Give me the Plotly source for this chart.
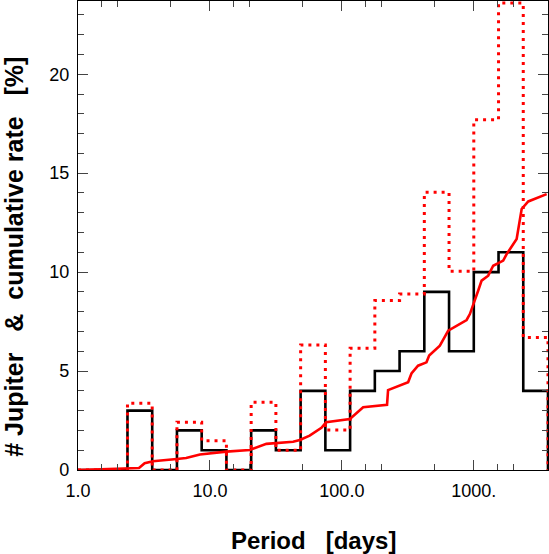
import numpy as np
import plotly.graph_objects as go

# ---------------- data ----------------
BIN_DEX = 0.1875          # log10 bin width
N_BINS = 19
jupiter_counts = [0, 0, 3, 0, 2, 1, 0, 2, 1, 4, 1, 4, 5, 6, 9, 6, 10, 11, 4]
jupiter_rate = [0, 0, 3.37, 0, 2.41, 1.48, 0, 3.42, 1.0, 6.32, 2.02, 6.15,
                8.56, 8.89, 14.03, 10.04, 17.7, 23.6, 6.7]

cum_period = [1.0, 2.3, 2.9, 3.2, 3.7, 5.6, 6.6, 8.4, 13.3, 20.0, 22.5, 26.8,
              42.7, 48.0, 57.0, 70.0, 76.0, 115, 145, 194, 220, 224, 318, 337,
              378, 438, 459, 553, 604, 640, 882, 934, 1079, 1146, 1286, 1403,
              1671, 1774, 2113, 2306, 2588, 3567]
cum_rate = [0.0, 0.07, 0.1, 0.34, 0.44, 0.56, 0.61, 0.78, 0.93, 1.01, 1.15, 1.32,
            1.43, 1.52, 1.74, 2.13, 2.41, 2.58, 3.17, 3.25, 3.30, 4.04, 4.43, 4.88,
            5.27, 5.44, 5.78, 6.28, 6.70, 7.04, 7.58, 7.88, 9.06, 9.57, 9.82, 10.32,
            10.58, 10.91, 11.67, 13.19, 13.57, 13.94]

x_tickvals = [1, 10, 100, 1000]
x_ticktext = ["1.0", "10.0", "100.0", "1000."]
x_minor = [m * 10 ** d for d in range(4) for m in (1.5, 2, 5)]
y_tickvals = [0, 5, 10, 15, 20]

# ---------------- figure ----------------
edges = 10 ** (np.arange(N_BINS + 1) * BIN_DEX)

fig = go.Figure()
fig.add_trace(go.Scatter(
    x=edges, y=list(jupiter_counts) + [0], mode="lines", line_shape="hv",
    line=dict(color="black", width=2.6), hoverinfo="skip"))
fig.add_trace(go.Scatter(
    x=edges, y=list(jupiter_rate) + [0], mode="lines", line_shape="hv",
    line=dict(color="#ff0000", width=3, dash="3px,5px"), hoverinfo="skip"))
fig.add_trace(go.Scatter(
    x=cum_period, y=cum_rate, mode="lines",
    line=dict(color="#ff0000", width=2.6), hoverinfo="skip"))

tickfont = dict(family="Liberation Sans, Arial, sans-serif", size=18, color="black")
sp = "\u00a0"

fig.update_layout(
    width=549, height=554,
    margin=dict(l=78, r=1, t=1, b=84, autoexpand=False),
    paper_bgcolor="white", plot_bgcolor="white",
    showlegend=False,
    xaxis=dict(
        type="log", range=[0, N_BINS * BIN_DEX], automargin=False,
        tickmode="array", tickvals=x_tickvals, ticktext=x_ticktext,
        ticks="inside", ticklen=10, tickwidth=1, tickcolor="#444",
        minor=dict(tickmode="array", tickvals=x_minor, ticks="inside",
                   ticklen=6, tickwidth=1, tickcolor="#444"),
        showline=True, linecolor="black", linewidth=1.2, mirror="ticks",
        showgrid=False, zeroline=False, tickfont=tickfont,
        ticklabelstandoff=4),
    yaxis=dict(
        range=[0, 23.7], tickmode="array", tickvals=y_tickvals, automargin=False,
        ticks="inside", ticklen=10, tickwidth=1, tickcolor="#444",
        minor=dict(dtick=1, ticks="inside", ticklen=6, tickwidth=1,
                   tickcolor="#444"),
        showline=True, linecolor="black", linewidth=1.2, mirror="ticks",
        showgrid=False, zeroline=False, tickfont=tickfont,
        ticklabelstandoff=4),
    annotations=[
        dict(text="Period" + sp * 3 + "[days]", xref="paper", yref="paper",
             x=0.5, y=-0.15, xanchor="center", yanchor="middle", showarrow=False,
             font=dict(family="Liberation Sans, Arial, sans-serif", size=24,
                       color="black", weight="bold")),
        dict(text="#" + sp + "Jupiter" + sp * 3 + "&" + sp * 2 + "cumulative"
                  + sp + "rate" + sp * 3 + "[%]",
             xref="paper", yref="paper", textangle=-90,
             x=-0.138, y=0.455, xanchor="center", yanchor="middle", showarrow=False,
             font=dict(family="Liberation Sans, Arial, sans-serif", size=25,
                       color="black", weight="bold")),
    ],
)

fig.write_html("out.html", config={"displayModeBar": False},
               post_script="document.body.style.margin='0';document.body.style.overflow='hidden';")
